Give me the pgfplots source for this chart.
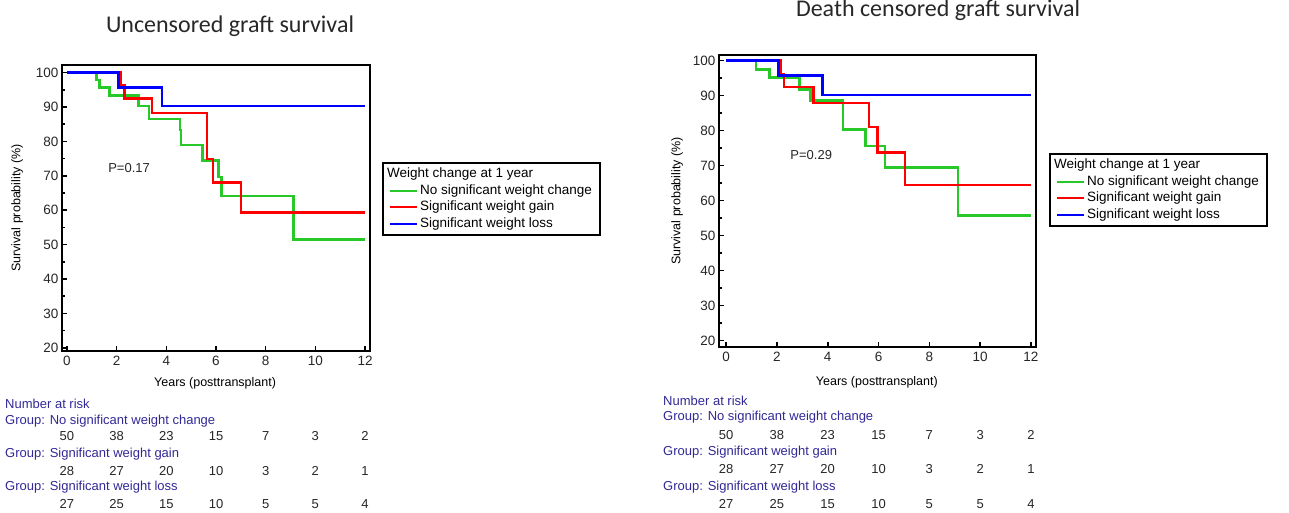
\documentclass[border=0pt]{standalone}
\usepackage{fontspec}
\setmainfont{Liberation Sans}
\newfontfamily\titlefont{Carlito}
\usepackage{pgfplots}
\pgfplotsset{compat=1.18}
\definecolor{kmgreen}{RGB}{40,200,40}
\definecolor{kmred}{RGB}{255,0,0}
\definecolor{kmblue}{RGB}{0,0,255}
\definecolor{riskc}{RGB}{50,40,150}
\definecolor{titlec}{RGB}{40,40,40}
\tikzset{riskn/.style={font=\fontsize{13}{15}\selectfont, text=black!85}}
\pgfplotsset{
  km/.style={
    scale only axis, clip=false,
    axis line style={line width=2.6pt},
    tick align=inside, xtick pos=bottom, ytick pos=left,
    major tick length=5pt, minor tick length=3pt,
    tick style={line width=1.6pt, black},
    xtick={0,2,...,12}, ytick={20,30,...,100}, minor ytick={25,35,...,95},
    tick label style={font=\fontsize{13.5}{15}\selectfont, text=black!85},
    xticklabel style={yshift=-2pt},
    /pgf/number format/assume math mode=true,
    label style={font=\fontsize{12.5}{14}\selectfont},
    legend cell align=left,
    legend image code/.code={\draw[##1,line width=2pt] (0pt,0pt) -- (27pt,0pt);},
    legend style={draw=black, line width=2.2pt, font=\fontsize{13.5}{15}\selectfont,
      inner xsep=6pt, inner ysep=3pt, row sep=0pt,
      nodes={inner sep=2pt, text height=9.5pt, text depth=3pt}},
  },
  kmline/.style={const plot, line width=2.5pt, mark=none},
}
\newcommand\riskrow[2]{%
  \foreach \x/\n in {#2} {\edef\tmp{\noexpand\node[riskn] at (axis cs:\x,#1) {\n};}\tmp}}
\begin{document}
\begin{tikzpicture}[x=1pt,y=1pt]
\useasboundingbox (0,0) rectangle (1289,513);
% ---------- left panel ----------
\node[font=\titlefont\fontsize{24}{28}\selectfont, text=titlec, anchor=base] at (230,480) {Uncensored graft survival};
\begin{axis}[km, at={(62pt,162pt)}, anchor=south west, width=308pt, height=286pt,
  xmin=-0.2, xmax=12.2, ymin=19.1, ymax=102.2,
  xlabel={Years (posttransplant)}, ylabel={Survival probability (\%)},
  xlabel style={at={(axis description cs:0.497,-0.112)}, anchor=center},
  ylabel style={at={(axis description cs:-0.146,0.5)}, anchor=center, rotate=0},
  legend style={at={(rel axis cs:1.039,0.661)}, anchor=north west}]
\addlegendimage{empty legend}
\addlegendentry{\hspace*{-33pt}Weight change at 1 year}
\addplot[kmline, kmgreen] coordinates {(0,100) (1.18,97.9) (1.31,95.7) (1.72,93.4) (2.88,90.3) (3.31,86.5) (4.56,83.3) (4.60,78.9) (5.46,74.4) (6.10,69.7) (6.23,64.1) (9.12,51.5) (12,51.5)};
\addlegendentry{No significant weight change}
\addplot[kmline, kmred] coordinates {(0,100) (2.17,96.4) (2.31,92.5) (3.42,88.3) (5.63,74.9) (5.87,68.0) (7.01,59.3) (12,59.3)};
\addlegendentry{Significant weight gain}
\addplot[kmline, kmblue] coordinates {(0,100) (2.08,95.7) (3.82,90.3) (12,90.3)};
\addlegendentry{Significant weight loss}
\node[riskn] at (axis cs:2.5,72.3) {P=0.17};
\riskrow{-5.6}{0/50,2/38,4/23,6/15,8/7,10/3,12/2}
\riskrow{-15.7}{0/28,2/27,4/20,6/10,8/3,10/2,12/1}
\riskrow{-25.4}{0/27,2/25,4/15,6/10,8/5,10/5,12/4}
\end{axis}
\begin{scope}[every node/.style={font=\fontsize{13}{15}\selectfont, text=riskc, anchor=west, inner sep=0pt}]
\node at (5,109) {Number at risk};
\node at (5,92.3) {Group: No significant weight change};
\node at (5,59) {Group: Significant weight gain};
\node at (5,26) {Group: Significant weight loss};
\end{scope}
% ---------- right panel ----------
\node[font=\titlefont\fontsize{24}{28}\selectfont, text=titlec, anchor=base] at (938,496) {Death censored graft survival};
\begin{axis}[km, at={(719pt,166pt)}, anchor=south west, width=317pt, height=292pt,
  xmin=-0.28, xmax=12.2, ymin=18.2, ymax=101.6,
  xlabel={Years (posttransplant)}, ylabel={Survival probability (\%)},
  xlabel style={at={(axis description cs:0.498,-0.12)}, anchor=center},
  ylabel style={at={(axis description cs:-0.132,0.5)}, anchor=center, rotate=0},
  legend style={at={(rel axis cs:1.041,0.664)}, anchor=north west}]
\addlegendimage{empty legend}
\addlegendentry{\hspace*{-33pt}Weight change at 1 year}
\addplot[kmline, kmgreen] coordinates {(0,100) (1.18,97.4) (1.71,95.2) (2.89,91.7) (3.33,88.6) (4.60,80.3) (5.49,75.6) (6.26,69.5) (9.12,55.8) (12,55.8)};
\addlegendentry{No significant weight change}
\addplot[kmline, kmred] coordinates {(0,100) (2.15,96.2) (2.28,92.4) (3.44,87.9) (5.62,81.1) (5.95,73.8) (7.05,64.4) (12,64.4)};
\addlegendentry{Significant weight gain}
\addplot[kmline, kmblue] coordinates {(0,100) (2.06,95.8) (3.79,90.2) (12,90.2)};
\addlegendentry{Significant weight loss}
\node[riskn] at (axis cs:3.35,73.1) {P=0.29};
\riskrow{-6.9}{0/50,2/38,4/23,6/15,8/7,10/3,12/2}
\riskrow{-16.7}{0/28,2/27,4/20,6/10,8/3,10/2,12/1}
\riskrow{-26.7}{0/27,2/25,4/15,6/10,8/5,10/5,12/4}
\end{axis}
\begin{scope}[every node/.style={font=\fontsize{13}{15}\selectfont, text=riskc, anchor=west, inner sep=0pt}]
\node at (663,112.3) {Number at risk};
\node at (663,96) {Group: No significant weight change};
\node at (663,61) {Group: Significant weight gain};
\node at (663,26) {Group: Significant weight loss};
\end{scope}
\end{tikzpicture}
\end{document}
